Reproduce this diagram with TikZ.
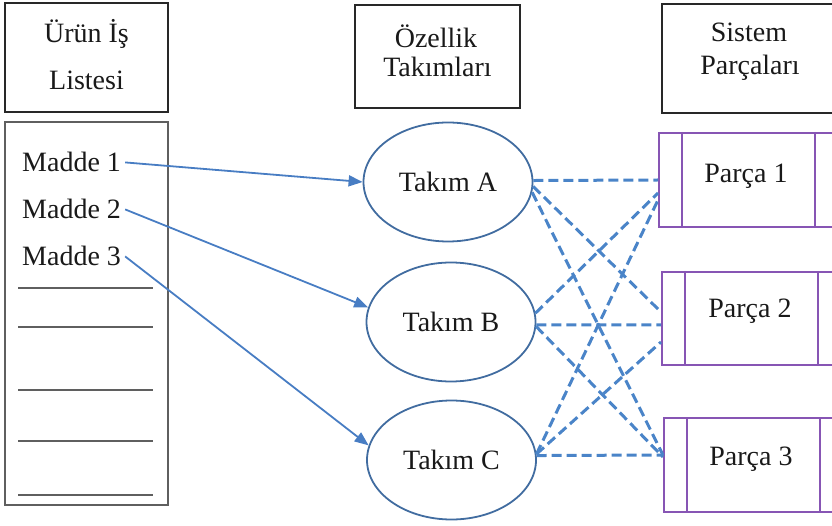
\documentclass[tikz,border=0pt]{standalone}
\usepackage{fontspec}
\setmainfont{Liberation Serif}
\usetikzlibrary{arrows.meta,shapes.geometric}

\definecolor{boxline}{RGB}{40,40,40}
\definecolor{listline}{RGB}{95,95,95}
\definecolor{ovalline}{RGB}{65,108,160}
\definecolor{arrowblue}{RGB}{72,125,195}
\definecolor{dashblue}{RGB}{74,132,200}
\definecolor{partline}{RGB}{135,85,180}

\begin{document}
\begin{tikzpicture}[x=1pt,y=-1pt,
  every node/.style={font=\fontsize{28}{33}\selectfont, inner sep=0pt, text=black!90},
  hdr/.style={draw=boxline, line width=2pt, rectangle},
  listbox/.style={draw=listline, line width=2pt, rectangle},
  team/.style={draw=ovalline, line width=1.8pt, ellipse, minimum width=169pt, minimum height=119pt},
  part/.style={draw=partline, line width=2pt, rectangle, minimum width=192pt, anchor=west},
  divider/.style={draw=partline, line width=2pt},
  feed/.style={draw=arrowblue, line width=1.8pt, -{Triangle[length=14pt,width=11pt]}},
  link/.style={draw=dashblue, line width=3pt, dash pattern=on 10pt off 5pt},
  rule/.style={draw=listline, line width=1.8pt}]

\useasboundingbox (0,0) rectangle (832,526);
\clip (0,0) rectangle (832,526);

% column headers
\node[hdr, minimum width=163pt, minimum height=109pt] (h1) at (86.5,57.5) {};
\node[anchor=base] (h1a) at (86.5,43) {Ürün İş};
\node[anchor=base] (h1b) at (86.5,90) {Listesi};

\node[hdr, minimum width=165pt, minimum height=103pt] (h2) at (437.5,56.5) {};
\node[anchor=base] (h2a) at (436,48) {Özellik};
\node[anchor=base] (h2b) at (437.5,77) {Takımları};

\node[hdr, minimum width=176pt, minimum height=109pt] (h3) at (750,58.5) {};
\node[anchor=base] (h3a) at (749,42) {Sistem};
\node[anchor=base] (h3b) at (750,75) {Parçaları};

% product backlog
\node[listbox, minimum width=163pt, minimum height=383pt] (lst) at (86.5,313.5) {};
\node[anchor=base west] (m1) at (22,172) {Madde 1};
\node[anchor=base west] (m2) at (22,219) {Madde 2};
\node[anchor=base west] (m3) at (22,266) {Madde 3};
\foreach \yy in {288,327,390,441,495}
  \draw[rule] (18,\yy) -- (153,\yy);

% feature teams
\node[team] (ta) at (448,182) {Takım A};
\node[team] (tb) at (451,322) {Takım B};
\node[team] (tc) at (451.5,460) {Takım C};

% system parts
\node[part, minimum height=94pt] (p1) at (658,180) {};
\node[part, minimum height=93pt] (p2) at (661,318.5) {};
\node[part, minimum height=94pt] (p3) at (663,465) {};
\foreach \p in {p1,p2,p3}{
  \draw[divider] ([xshift=24pt]\p.north west) -- ([xshift=24pt]\p.south west);
  \draw[divider] ([xshift=157pt]\p.north west) -- ([xshift=157pt]\p.south west);
}
\node[anchor=base] (p1t) at (746,183) {Parça 1};
\node[anchor=base] (p2t) at (750,318) {Parça 2};
\node[anchor=base] (p3t) at (751,465) {Parça 3};

% backlog items assigned to teams
\draw[feed] ([xshift=4pt]m1.east) -- (ta.west);
\draw[feed] ([xshift=4pt]m2.east) -- (tb.170);
\draw[feed] ([xshift=4pt]m3.east) -- (tc.170);

% every team works on every part
\draw[link] (ta.1.4)  -- (p1.west);
\draw[link] (ta.-3.4) -- ([yshift=6.5pt]p2.west);
\draw[link] (ta.-7.6) -- ([yshift=10pt]p3.west);
\draw[link] (tb.6)    -- ([yshift=-13pt]p1.west);
\draw[link] (tb.-2)   -- ([yshift=-6.5pt]p2.west);
\draw[link] (tb.-3.4) -- ([yshift=8pt]p3.west);
\draw[link] (tc.4.7)  -- ([yshift=-20pt]p1.west);
\draw[link] (tc.4.7)  -- ([yshift=-23.5pt]p2.west);
\draw[link] (tc.3.3)  -- ([yshift=10pt]p3.west);
\end{tikzpicture}
\end{document}
